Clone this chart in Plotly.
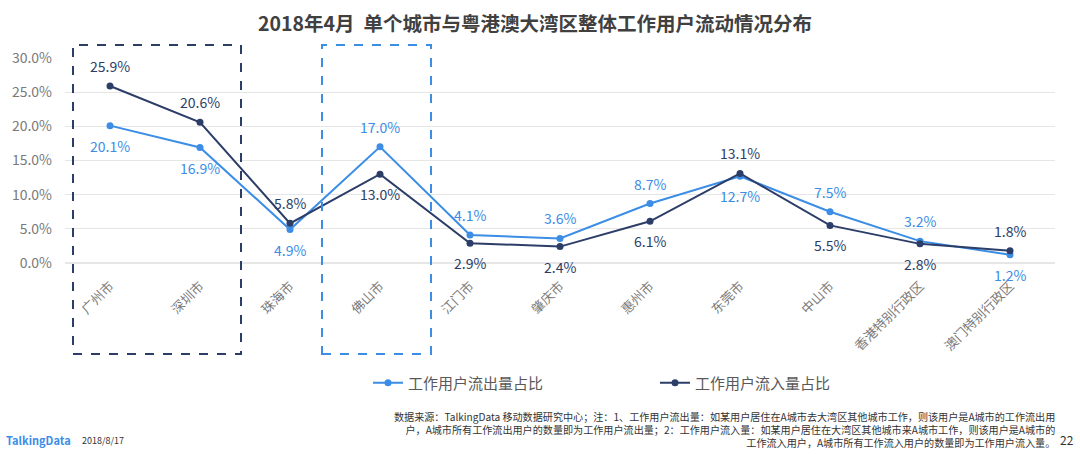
import plotly.graph_objects as go

cities = ["广州市", "深圳市", "珠海市", "佛山市", "江门市", "肇庆市", "惠州市", "东莞市", "中山市", "香港特别行政区", "澳门特别行政区"]
outflow = [20.1, 16.9, 4.9, 17.0, 4.1, 3.6, 8.7, 12.7, 7.5, 3.2, 1.2]
inflow = [25.9, 20.6, 5.8, 13.0, 2.9, 2.4, 6.1, 13.1, 5.5, 2.8, 1.8]
out_label_pos = ["below", "below", "below", "above", "above", "above", "above", "below", "above", "above", "below"]
in_label_pos = ["above", "above", "above", "below", "below", "below", "below", "above", "below", "below", "above"]
y_ticks = [0, 5, 10, 15, 20, 25, 30]

BLUE = "#3b8de6"
NAVY = "#2c3d68"
GRAY = "#7a7a7a"
FONT = "Noto Sans CJK SC"

W, H = 1080, 454
L, R, T, B = 65, 25, 58, 191
pw, ph = W - L - R, H - T - B

def px(x):
    return (x - L) / pw

def py(y):
    return (H - B - y) / ph

fig = go.Figure()
fig.add_trace(go.Scatter(x=cities, y=outflow, mode="lines+markers", name="工作用户流出量占比",
                         line=dict(color=BLUE, width=2), marker=dict(size=7, color=BLUE)))
fig.add_trace(go.Scatter(x=cities, y=inflow, mode="lines+markers", name="工作用户流入量占比",
                         line=dict(color=NAVY, width=2), marker=dict(size=7, color=NAVY)))

for c, v, p in zip(cities, outflow, out_label_pos):
    fig.add_annotation(x=c, y=v, text=f"{v:.1f}%", showarrow=False, yshift=20 if p == "above" else -20,
                       font=dict(size=14, color=BLUE, family=FONT))
for c, v, p in zip(cities, inflow, in_label_pos):
    fig.add_annotation(x=c, y=v, text=f"{v:.1f}%", showarrow=False, yshift=20 if p == "above" else -20,
                       font=dict(size=14, color=NAVY, family=FONT))

# dashed highlight boxes
fig.add_shape(type="rect", xref="paper", yref="paper", x0=px(73), x1=px(241), y0=py(354), y1=py(45),
              line=dict(color=NAVY, width=2, dash="dash"), layer="above")
fig.add_shape(type="rect", xref="paper", yref="paper", x0=px(322), x1=px(431), y0=py(354), y1=py(45),
              line=dict(color=BLUE, width=2, dash="dash"), layer="above")

fig.add_annotation(xref="paper", yref="paper", x=px(535), y=py(22), text="<b>2018年4月  单个城市与粤港澳大湾区整体工作用户流动情况分布</b>",
                   showarrow=False, font=dict(size=19.5, color="#404040", family=FONT), xanchor="center", yanchor="middle")

fig.add_annotation(xref="paper", yref="paper", x=px(4), y=py(440), text="<b>TalkingData</b>", showarrow=False,
                   xanchor="left", yanchor="middle", font=dict(size=11, color="#3b8de6", family=FONT))
fig.add_annotation(xref="paper", yref="paper", x=px(80), y=py(440), text="2018/8/17", showarrow=False,
                   xanchor="left", yanchor="middle", font=dict(size=9, color="#333333", family=FONT))
fig.add_annotation(xref="paper", yref="paper", x=px(1076), y=py(439), text="22", showarrow=False,
                   xanchor="right", yanchor="middle", font=dict(size=12, color="#333333", family=FONT))
note = ("数据来源：TalkingData 移动数据研究中心；注：1、工作用户流出量：如某用户居住在A城市去大湾区其他城市工作，则该用户是A城市的工作流出用<br>"
        "户，A城市所有工作流出用户的数量即为工作用户流出量；2：工作用户流入量：如某用户居住在大湾区其他城市来A城市工作，则该用户是A城市的<br>"
        "工作流入用户，A城市所有工作流入用户的数量即为工作用户流入量。")
fig.add_annotation(xref="paper", yref="paper", x=px(1057), y=py(430), text=note, showarrow=False,
                   xanchor="right", yanchor="middle", align="right",
                   font=dict(size=10.1, color="#333333", family=FONT))

fig.update_layout(
    width=W, height=H, margin=dict(l=L, r=R, t=T, b=B),
    plot_bgcolor="white", paper_bgcolor="white",
    font=dict(family=FONT, color=GRAY),
    showlegend=True,
    legend=dict(orientation="h", x=px(368), y=py(383), xanchor="left", yanchor="middle",
                font=dict(size=15, color="#595959", family=FONT), itemwidth=30,
                entrywidth=242, entrywidthmode="pixels"),
    xaxis=dict(type="category", range=[-0.5, 10.5], tickangle=-45, showgrid=False, showline=False,
               ticks="", ticklabelstandoff=12, tickfont=dict(size=13, color=GRAY, family=FONT)),
    yaxis=dict(range=[0, 30], tickvals=y_ticks, ticktext=[f"{v:.1f}%" for v in y_ticks],
               showgrid=True, gridcolor="#e6e6e6", gridwidth=1, zeroline=True, zerolinecolor="#e6e6e6",
               showline=False, ticks="", ticklabelstandoff=12,
               tickfont=dict(size=14, color=GRAY, family=FONT)),
)

fig.write_html("out.html")
